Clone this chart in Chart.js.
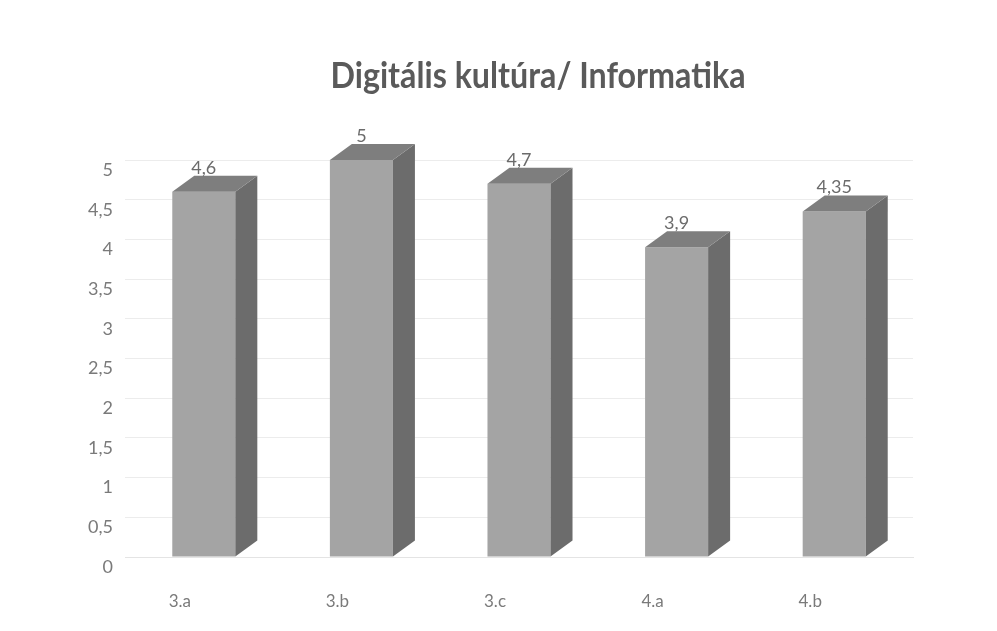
<!DOCTYPE html>
<html>
<head>
<meta charset="utf-8">
<script src="https://cdn.jsdelivr.net/npm/chart.js@4"></script>
<style>
  html, body { margin: 0; padding: 0; background: #fff; }
  #wrap { width: 997px; height: 631px; }
</style>
</head>
<body>
<div id="wrap"><canvas id="chart" width="997" height="631"></canvas></div>
<script>
const chartTitle = "Digitális kultúra/ Informatika";
const classes = ["3.a", "3.b", "3.c", "4.a", "4.b"];
const averages = [4.6, 5, 4.7, 3.9, 4.35];
const yTicks = [0, 0.5, 1, 1.5, 2, 2.5, 3, 3.5, 4, 4.5, 5];

const depthX = 22;
const depthY = -16;

// draws the side and top faces plus the value above each bar
const fakeDepth = {
    id: "fakeDepth",
    afterDatasetsDraw(chart) {
        const ctx = chart.ctx;
        const meta = chart.getDatasetMeta(0);
        ctx.save();
        meta.data.forEach((bar, i) => {
            const left = bar.x - bar.width / 2;
            const right = bar.x + bar.width / 2;
            const top = bar.y;
            const bottom = bar.base;

            ctx.fillStyle = "#6c6c6c";
            ctx.beginPath();
            ctx.moveTo(right, top);
            ctx.lineTo(right + depthX, top + depthY);
            ctx.lineTo(right + depthX, bottom + depthY);
            ctx.lineTo(right, bottom);
            ctx.closePath();
            ctx.fill();

            ctx.fillStyle = "#7e7e7e";
            ctx.beginPath();
            ctx.moveTo(left, top);
            ctx.lineTo(left + depthX, top + depthY);
            ctx.lineTo(right + depthX, top + depthY);
            ctx.lineTo(right, top);
            ctx.closePath();
            ctx.fill();

            ctx.fillStyle = "#6b6b6b";
            ctx.font = "18px Lato";
            ctx.textAlign = "center";
            ctx.textBaseline = "bottom";
            ctx.fillText(String(averages[i]).replace(".", ","), bar.x, top + depthY + 1);
        });
        ctx.restore();
    }
};

// title sits off-centre in the original, so it is drawn here
const titleText = {
    id: "titleText",
    afterDraw(chart) {
        const ctx = chart.ctx;
        ctx.save();
        ctx.font = "bold 37px Lato";
        ctx.fillStyle = "#5a5a5a";
        ctx.textAlign = "center";
        ctx.textBaseline = "middle";
        const w = ctx.measureText(chartTitle).width;
        ctx.translate(538, 76);
        ctx.scale(Math.min(1, 415 / w), 1);
        ctx.fillText(chartTitle, 0, 0);
        ctx.restore();
    }
};

new Chart(document.getElementById("chart").getContext("2d"), {
    type: "bar",
    data: {
        labels: classes,
        datasets: [{
            data: averages,
            backgroundColor: "#a4a4a4",
            borderWidth: 0,
            barPercentage: 0.4,
            categoryPercentage: 1
        }]
    },
    options: {
        responsive: false,
        animation: false,
        layout: { padding: { left: 60, right: 84, top: 160, bottom: 18 } },
        plugins: {
            legend: { display: false },
            tooltip: { enabled: false },
            title: { display: false }
        },
        scales: {
            x: {
                grid: { display: false },
                border: { color: "#e4e4e4" },
                afterFit: scale => { scale.height = 56; },
                ticks: {
                    color: "#7a7a7a",
                    font: { family: "Lato", size: 17 },
                    padding: 26,
                    labelOffset: -24
                }
            },
            y: {
                min: 0,
                max: 5,
                afterFit: scale => { scale.width = 65; },
                afterBuildTicks: scale => { scale.ticks = yTicks.map(v => ({ value: v })); },
                grid: { color: "#ececec", drawTicks: false },
                border: { display: false },
                ticks: {
                    color: "#7a7a7a",
                    font: { family: "Lato", size: 18 },
                    padding: 12,
                    labelOffset: 10,
                    callback: v => String(v).replace(".", ",")
                }
            }
        }
    },
    plugins: [fakeDepth, titleText]
});
</script>
</body>
</html>
